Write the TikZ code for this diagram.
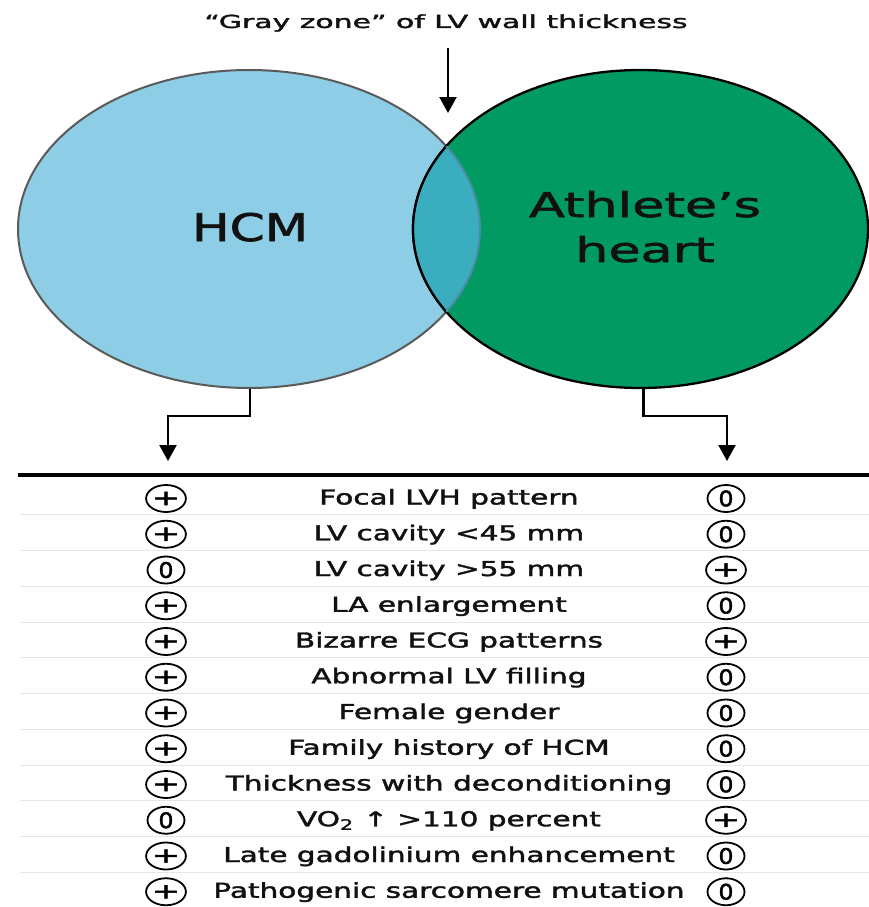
\documentclass[tikz,border=0pt]{standalone}
\usepackage{fontspec}
\setmainfont{DejaVu Sans}[FakeBold=1.6]
\usepackage{graphicx}
\usetikzlibrary{shapes.geometric,arrows.meta}
\definecolor{hcmblue}{HTML}{8DCDE5}
\definecolor{athgreen}{HTML}{009A62}
\definecolor{ovteal}{HTML}{3AADBE}
\definecolor{ovline}{HTML}{4A8CA2}
\definecolor{sepgray}{HTML}{E6E6E6}
\definecolor{hcmline}{HTML}{5A5A5A}
\definecolor{txt}{HTML}{111111}
\newcommand{\tabtxt}[1]{\fontsize{20.5}{24}\selectfont\scalebox{1.44}[1]{#1}}
\newcommand{\symP}{\fontsize{21}{24}\selectfont\scalebox{1.6}[1]{+}}
\newcommand{\symZ}{\fontsize{21.5}{24}\selectfont\scalebox{1.1}[1]{0}}
\tikzset{
  arr/.style={line width=2.2pt, -{Triangle[width=17pt,length=16pt]}},
  rowtext/.style={anchor=base, inner sep=0pt, text=txt},
  sym/.style={draw, line width=1.8pt, ellipse, minimum width=37pt, minimum height=27pt, inner sep=0pt},
  sepline/.style={draw=sepgray, line width=1pt},
}
\begin{document}
\begin{tikzpicture}[x=1pt,y=-1pt]
\useasboundingbox (0,0) rectangle (869,907);
\fill[white] (0,0) rectangle (869,907);
% circles
\node[ellipse, fill=hcmblue, draw=hcmline, line width=2pt, minimum width=462pt, minimum height=318pt, inner sep=0pt] (hcm) at (249,229) {};
\node[ellipse, fill=athgreen, draw=black, line width=2.3pt, minimum width=455pt, minimum height=318pt, inner sep=0pt] (ath) at (640.5,229) {};
\begin{scope}
  \clip (249,229) ellipse [x radius=231pt, y radius=159pt];
  \fill[ovteal] (640.5,229) ellipse [x radius=227.5pt, y radius=159pt];
  \draw[black, line width=2.3pt] (640.5,229) ellipse [x radius=227.5pt, y radius=159pt];
\end{scope}
\begin{scope}
  \clip (640.5,229) ellipse [x radius=227.5pt, y radius=159pt];
  \draw[ovline, line width=2pt] (249,229) ellipse [x radius=231pt, y radius=159pt];
\end{scope}
% labels
\node[anchor=base, inner sep=0pt, text=txt] (title) at (446,28) {\fontsize{18}{22}\selectfont\scalebox{1.66}[1]{“Gray zone” of LV wall thickness}};
\node[anchor=base, inner sep=0pt, text=txt] (hcmlabel) at (250,241) {\fontsize{38}{40}\selectfont\scalebox{1.32}[1]{HCM}};
\node[anchor=base, inner sep=0pt, text=txt] (ath1) at (645,217) {\fontsize{34.2}{40}\selectfont\scalebox{1.53}[1]{Athlete’s}};
\node[anchor=base, inner sep=0pt, text=txt] (ath2) at (645,262) {\fontsize{34.2}{40}\selectfont\scalebox{1.53}[1]{heart}};
% arrows
\coordinate (gz0) at (448,48);
\coordinate (gz1) at (448,113);
\draw[arr] (gz0) -- (gz1);
\coordinate (lt) at (168,461);
\coordinate (rt) at (727,461);
\draw[arr] ([xshift=1pt]hcm.south) -- ++(0,27) -| (lt);
\draw[arr] ([xshift=3pt]ath.south) -- ++(0,27) -| (rt);
% table
\coordinate (tl) at (18,475);
\coordinate (tr) at (869,475);
\draw[line width=4pt] (tl) -- (tr);
\foreach \i in {1,...,11}{
  \pgfmathsetmacro\sy{497+(\i-0.5)*35.75}
  \coordinate (sa\i) at (20,\sy);
  \coordinate (sb\i) at (869,\sy);
  \draw[sepline] (sa\i) -- (sb\i);
}
\foreach \i/\a/\t/\b in {
  1/P/Focal LVH pattern/Z,
  2/P/LV cavity <45 mm/Z,
  3/Z/LV cavity >55 mm/P,
  4/P/LA enlargement/Z,
  5/P/Bizarre ECG patterns/P,
  6/P/Abnormal LV filling/Z,
  7/P/Female gender/Z,
  8/P/Family history of HCM/Z,
  9/P/Thickness with deconditioning/Z,
  10/Z/VO\textsubscript{2} ↑ >110 percent/P,
  11/P/Late gadolinium enhancement/Z,
  12/P/Pathogenic sarcomere mutation/Z}{
  \pgfmathsetmacro\ry{497+(\i-1)*35.75}
  \node[sym] (l\i) at (166,\ry+1.5) {\csname sym\a\endcsname};
  \node[sym] (r\i) at (726,\ry+1.5) {\csname sym\b\endcsname};
  \node[rowtext] (t\i) at (449,\ry+7.5) {\tabtxt{\t}};
}
\end{tikzpicture}
\end{document}
